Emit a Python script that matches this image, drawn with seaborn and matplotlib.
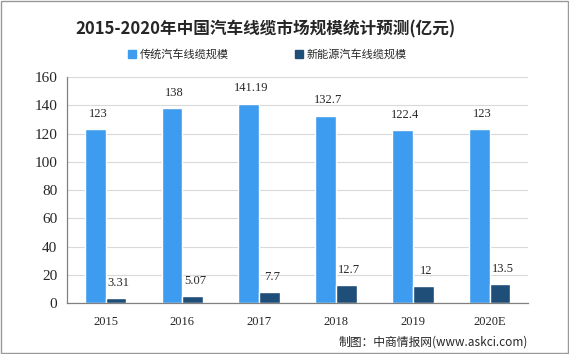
import numpy as np
import pandas as pd
import matplotlib.pyplot as plt
import seaborn as sns
from matplotlib.patches import Patch

years = ['2015', '2016', '2017', '2018', '2019', '2020E']
traditional = [123, 138, 141.19, 132.7, 122.4, 123]
new_energy = [3.31, 5.07, 7.7, 12.7, 12, 13.5]
series_names = ['传统汽车线缆规模', '新能源汽车线缆规模']
value_labels = [['123', '138', '141.19', '132.7', '122.4', '123'],
                ['3.31', '5.07', '7.7', '12.7', '12', '13.5']]

df = pd.DataFrame({
    'year': years * 2,
    'value': traditional + new_energy,
    'series': [series_names[0]] * 6 + [series_names[1]] * 6,
})

sns.set_style('white')
plt.rcParams['font.family'] = ['Noto Sans CJK SC', 'DejaVu Sans']
serif = ['Liberation Serif', 'DejaVu Serif']

fig = plt.figure(figsize=(5.69, 3.54), dpi=100)
ax = fig.add_axes([0.118, 0.144, 0.81, 0.638])

colors = ['#3d9cf0', '#1f4e79']
sns.barplot(data=df, x='year', y='value', hue='series', palette=colors,
            width=0.54, gap=0, saturation=1, ax=ax, legend=False)

# value labels above bars
for cont, labels in zip(ax.containers, value_labels):
    for bar, lab in zip(cont, labels):
        ax.annotate(lab, (bar.get_x() + bar.get_width() / 2, bar.get_height()),
                    xytext=(2, 11), textcoords='offset points', ha='center', va='center',
                    fontsize=9, family=serif)

ax.set_ylim(0, 160)
ax.set_xlim(-0.5, 5.5)
ax.set_yticks(range(0, 161, 20))
ax.yaxis.grid(True, color='#d9d9d9', linewidth=0.8)
ax.set_axisbelow(True)
ax.set_xlabel('')
ax.set_ylabel('')
for s in ['top', 'right']:
    ax.spines[s].set_visible(False)
for s in ['left', 'bottom']:
    ax.spines[s].set_color('#808080')
    ax.spines[s].set_linewidth(0.9)

ax.set_xticks(np.arange(-0.5, 6, 1), minor=True)
ax.tick_params(axis='x', which='major', length=0, pad=9, labelsize=9)
ax.tick_params(axis='x', which='minor', length=5, color='#808080', direction='out')
ax.tick_params(axis='y', length=4, color='#808080', direction='out', labelsize=11, pad=3)
for t in ax.get_xticklabels() + ax.get_yticklabels():
    t.set_family(serif)

# legend
handles = [Patch(color=c) for c in colors]
fig.legend(handles, series_names, loc='center', bbox_to_anchor=(0.47, 0.845), ncol=2,
           frameon=False, fontsize=8, handlelength=0.7, handleheight=0.7,
           handletextpad=0.3, columnspacing=6)

fig.text(0.466, 0.918, '2015-2020年中国汽车线缆市场规模统计预测(亿元)', ha='center', va='center',
         fontsize=12, fontweight='bold')
fig.text(0.928, 0.035, '制图：中商情报网(www.askci.com)', ha='right', va='center', fontsize=8.5)

fig.patches.append(plt.Rectangle((0.002, 0.003), 0.996, 0.994, transform=fig.transFigure,
                                 fill=False, edgecolor='#999999', linewidth=1))

fig.savefig('out.png', dpi=100)
